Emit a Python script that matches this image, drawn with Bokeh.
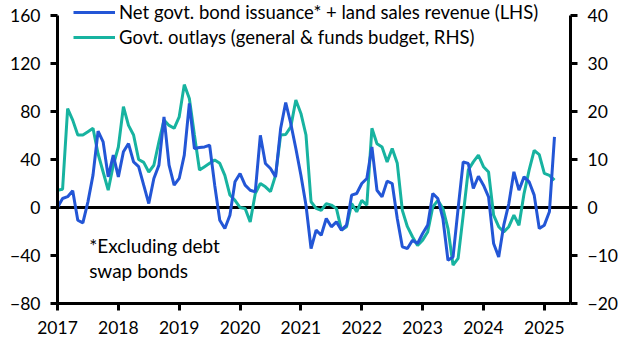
from bokeh.plotting import figure
from bokeh.models import Range1d, LinearAxis, FixedTicker, Span, Label, Legend, LegendItem
from bokeh.embed import file_html
from bokeh.resources import INLINE

# ---- data (monthly, Jan 2017 - Mar 2025) ----
start_year = 2017
blue_lhs = [0, 7.5, 9, 14, -10.6, -12.8, 4.7, 27, 63.6, 54.7, 25.5, 43.6,
            25.5, 46.4, 53.3, 38, 34, 18.6, 3.3, 24.2, 35.3, 75.5, 35.3, 18.6,
            24.2, 43.6, 86.7, 49.2, 50, 50.5, 51.9, 18.6, -10.6, -17.5, -6.4, 21.4,
            28.3, 18.6, 14.4, 13, 60.2, 36.7, 32.5, 25.5, 65.8, 87.5, 70, 49.2,
            26.9, 1.9, -34.2, -18.9, -23.1, -9.2, -16.1, -12, -18.9, -14.7, 10.3, 11.7,
            20, 24.2, 50.5, 14.4, 8.9, 22, 20, -9.2, -32.8, -34.2, -27.3, -30,
            -21.7, -14.7, 11.7, 7.5, -9.2, -44, -41.2, -0.8, 38, 36.7, 15.8, 26,
            18.6, 8.9, -30, -41.2, -14.7, 3.3, 29.7, 14.4, 25.5, 21.4, 10.3, -17.5,
            -14.7, -3.6, 58.9]
teal_rhs = [3.6, 3.8, 20.6, 18.2, 15.1, 15.1, 15.8, 16.5, 11.2, 7.4, 3.6, 8.8,
            12.6, 21, 17.1, 15.1, 10, 9.4, 7.4, 8.8, 13.7, 18.2, 17.1, 16.5,
            18.9, 25.6, 22.7, 15.1, 7.8, 8.5, 9.2, 9.9, 9.2, 6.7, 2.6, 1.5,
            0, -0.2, -3, 2.9, 5, 4.3, 3.3, 6.7, 15.1, 15.2, 16.8, 22.4,
            19.6, 15.1, 1.2, -0.2, -0.6, 0.8, 0.5, -0.2, -4.7, -4, 0.8, -0.9,
            1.5, 0.5, 16.5, 13.3, 12.6, 9.5, 12.3, 9.2, -0.6, -4, -6.1, -7.9,
            -6.8, -5.1, 0.1, 1.5, -0.2, -4.4, -12, -10.6, -1.6, 7.8, 9.5, 10.9,
            8.5, 7.4, -1.6, -4, -5.1, -4, -1.6, -3.7, 2.9, 7.8, 11.9, 11,
            7.1, 6.7, 5.7]
x_years = [start_year + i / 12 for i in range(len(blue_lhs))]

year_ticks = [2017, 2018, 2019, 2020, 2021, 2022, 2023, 2024, 2025]
lhs_ticks = [-80, -40, 0, 40, 80, 120, 160]
rhs_ticks = [-20, -10, 0, 10, 20, 30, 40]

label_blue = "Net govt. bond issuance* + land sales revenue (LHS)"
label_teal = "Govt. outlays (general & funds budget, RHS)"
note_lines = ["*Excluding debt", "swap bonds"]

BLUE = "#2356d6"
TEAL = "#17b3a0"
FONT = "Lato"
FS_TICK = "17.5px"
FS_LEG = "18.5px"
FS_NOTE = "19px"

# frame reaches the top edge so the legend (drawn inside the frame) is not clipped;
# axis lines are bounded to the visible tick span
p = figure(width=629, height=351, output_backend="svg", toolbar_location=None,
           x_range=Range1d(2017, 2025.43), y_range=Range1d(-80, 172.5),
           min_border_left=57, min_border_right=59, min_border_top=0,
           min_border_bottom=48)
p.extra_y_ranges = {"rhs": Range1d(-20, 43.125)}
p.xgrid.visible = False
p.ygrid.visible = False
p.outline_line_color = None
p.background_fill_color = "white"
p.border_fill_color = "white"

p.add_layout(Span(location=0, dimension="width", line_color="black",
                  line_width=3, level="underlay"))

r_teal = p.line(x_years, teal_rhs, y_range_name="rhs", line_color=TEAL, line_width=3)
r_blue = p.line(x_years, blue_lhs, line_color=BLUE, line_width=3)

rax = LinearAxis(y_range_name="rhs", ticker=FixedTicker(ticks=rhs_ticks),
                 bounds=(rhs_ticks[0], rhs_ticks[-1]))
p.add_layout(rax, "right")
p.xaxis.ticker = FixedTicker(ticks=year_ticks)
p.xaxis.major_label_overrides = {y: str(y) for y in year_ticks}
p.yaxis[0].ticker = FixedTicker(ticks=lhs_ticks)
p.yaxis[0].bounds = (lhs_ticks[0], lhs_ticks[-1])

for ax in [p.xaxis[0], p.yaxis[0], rax]:
    ax.axis_line_width = 3
    ax.axis_line_color = "black"
    ax.major_tick_line_width = 3
    ax.major_tick_line_color = "black"
    ax.major_tick_in = 0
    ax.major_tick_out = 7
    ax.minor_tick_line_color = None
    ax.major_label_text_font = FONT
    ax.major_label_text_font_size = FS_TICK
    ax.major_label_text_color = "black"
    ax.major_label_standoff = 10

legend = Legend(items=[LegendItem(label=label_blue, renderers=[r_blue]),
                       LegendItem(label=label_teal, renderers=[r_teal])],
                location=(16, 255), glyph_width=42, glyph_height=20,
                label_height=20, label_standoff=4, spacing=3, padding=0,
                margin=0, border_line_alpha=0, background_fill_alpha=0,
                label_text_font=FONT, label_text_font_size=FS_LEG,
                label_text_color="black")
p.add_layout(legend)

p.add_layout(Label(x=2017.52, y=-31.4, text=note_lines[0], text_font=FONT,
                   text_font_size=FS_NOTE, text_color="black", text_baseline="alphabetic"))
p.add_layout(Label(x=2017.52, y=-52.3, text=note_lines[1], text_font=FONT,
                   text_font_size=FS_NOTE, text_color="black", text_baseline="alphabetic"))

open("out.html", "w").write(file_html(p, INLINE))
